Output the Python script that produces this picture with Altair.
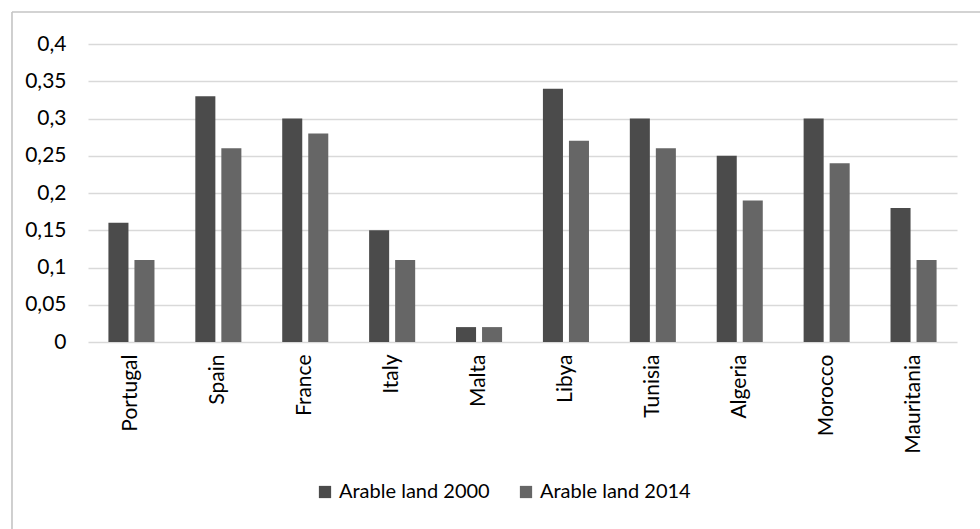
import altair as alt
import pandas as pd

countries = ["Portugal", "Spain", "France", "Italy", "Malta",
             "Libya", "Tunisia", "Algeria", "Morocco", "Mauritania"]
arable_2000 = [0.16, 0.33, 0.30, 0.15, 0.02, 0.34, 0.30, 0.25, 0.30, 0.18]
arable_2014 = [0.11, 0.26, 0.28, 0.11, 0.02, 0.27, 0.26, 0.19, 0.24, 0.11]
series = ["Arable land 2000", "Arable land 2014"]
series_colors = ["#4b4b4b", "#666666"]
y_ticks = [0, 0.05, 0.1, 0.15, 0.2, 0.25, 0.3, 0.35, 0.4]

rows = []
for c, a, b in zip(countries, arable_2000, arable_2014):
    rows.append({"country": c, "series": series[0], "value": a})
    rows.append({"country": c, "series": series[1], "value": b})
df = pd.DataFrame(rows)

FONT = "Lato"
W, H = 869, 298

bars = alt.Chart(df).mark_bar().encode(
    x=alt.X("country:N", sort=countries, title=None,
            scale=alt.Scale(paddingInner=0.47, paddingOuter=0.235),
            axis=alt.Axis(labelAngle=-90, labelAlign="right", labelBaseline="middle",
                          labelPadding=12, ticks=False, domain=False,
                          labelFont=FONT, labelFontSize=21, labelColor="#000000")),
    xOffset=alt.XOffset("series:N", scale=alt.Scale(paddingInner=0.23, paddingOuter=0)),
    y=alt.Y("value:Q", title=None,
            scale=alt.Scale(domain=[0, 0.4], nice=False),
            axis=alt.Axis(values=y_ticks, ticks=False, domain=False,
                          labelExpr="replace(format(datum.value, '.2~f'), '.', ',')",
                          labelPadding=22, labelFont=FONT, labelFontSize=21,
                          labelColor="#000000",
                          gridColor="#d9d9d9", gridWidth=1.6)),
    color=alt.Color("series:N", sort=series,
                    scale=alt.Scale(domain=series, range=series_colors),
                    legend=alt.Legend(title=None, orient="none", direction="horizontal",
                                      legendX=227, legendY=438,
                                      symbolType="square", symbolSize=150,
                                      symbolStrokeWidth=0, columnPadding=26,
                                      labelFont=FONT, labelFontSize=20,
                                      labelColor="#000000", labelOffset=4)),
)

frame = alt.Chart(pd.DataFrame({"k": [0]})).mark_rule(
    color="#c4c4c4", strokeWidth=1.6
).encode(x=alt.value(-76), x2=alt.value(1000), y=alt.value(-32))

frame_left = alt.Chart(pd.DataFrame({"k": [0]})).mark_rule(
    color="#c4c4c4", strokeWidth=1.6
).encode(x=alt.value(-76), y=alt.value(-32), y2=alt.value(600))

chart = alt.layer(frame, frame_left, bars).properties(
    width=W, height=H,
    autosize=alt.AutoSizeParams(type="none"),
    padding={"left": 88, "top": 44, "right": 23, "bottom": 187},
    background="#ffffff",
).configure_view(stroke=None)

chart.save("out.html", embed_options={"renderer": "svg", "actions": False})
